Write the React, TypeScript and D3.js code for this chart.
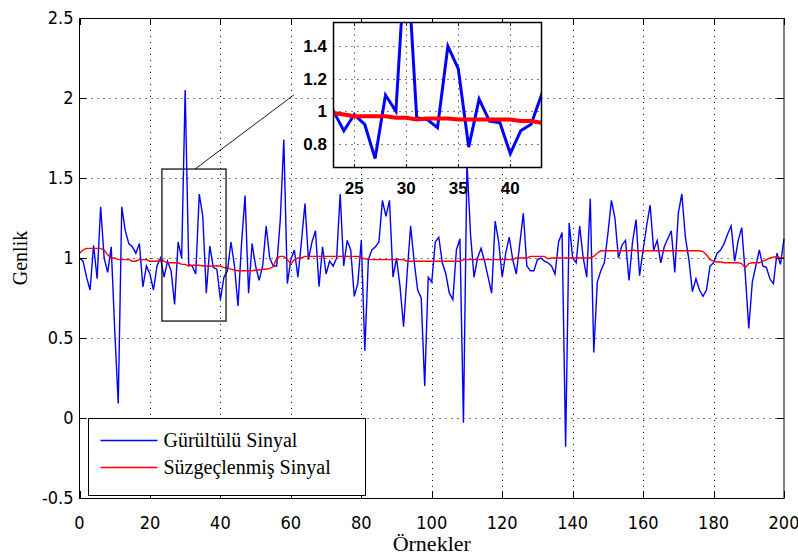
import React, { useEffect, useRef } from 'react'
import * as d3 from 'd3'

// samples 0..200
const noisy = [
  1.0, 0.98, 0.88, 0.8, 1.08, 0.87, 1.32, 1.0, 0.91, 1.07,
  0.55, 0.09, 1.32, 1.17, 1.09, 1.07, 1.03, 1.09, 0.82, 0.95,
  0.9, 0.8, 0.95, 1.0, 0.88, 0.98, 0.92, 0.71, 1.1, 1.0,
  2.05, 0.96, 0.95, 0.9, 1.4, 1.26, 0.78, 1.075, 0.94, 0.93,
  0.74, 0.88, 0.92, 1.1, 0.95, 0.7, 1.09, 1.39, 0.78, 1.09,
  0.95, 0.86, 0.95, 1.2, 1.0, 0.95, 0.95, 1.24, 1.74, 0.84,
  0.99, 1.05, 0.88, 1.1, 1.34, 0.99, 1.1, 1.17, 0.82, 1.07,
  0.9, 0.98, 0.95, 1.0, 1.4, 0.95, 1.11, 1.05, 0.76, 0.84,
  1.11, 0.42, 0.99, 1.05, 1.07, 1.1, 1.36, 1.26, 1.36, 0.88,
  1.0, 0.82, 0.57, 0.9, 1.2, 0.98, 0.8, 0.75, 0.2, 0.88,
  0.85, 1.1, 1.13, 0.97, 0.9, 0.78, 0.74, 1.05, 1.12, -0.03,
  1.6, 1.15, 0.88, 1.0, 1.06, 0.98, 0.88, 0.78, 1.23, 1.1,
  0.88, 1.03, 1.13, 0.99, 0.9, 1.09, 1.28, 0.95, 0.92, 0.92,
  0.99, 1.0, 0.98, 0.97, 0.95, 0.9, 1.1, 1.16, -0.18, 1.22,
  1.0, 0.97, 1.2, 1.0, 0.88, 1.37, 0.41, 0.85, 0.92, 0.97,
  1.15, 1.36, 1.25, 1.0, 1.08, 1.11, 0.86, 1.1, 1.24, 0.89,
  1.05, 1.2, 1.33, 1.05, 1.11, 0.97, 1.07, 1.12, 1.17, 0.91,
  1.28, 1.4, 1.13, 0.99, 0.79, 0.87, 0.8, 0.76, 0.8, 0.95,
  0.97, 1.03, 1.05, 1.09, 1.15, 1.2, 0.98, 1.11, 1.19, 0.9,
  0.56, 0.85, 0.95, 1.05, 0.95, 0.94, 0.87, 0.84, 1.03, 0.96,
  1.12,
]

const filtered = [
  1.03, 1.05, 1.06, 1.06, 1.06, 1.06, 1.06, 1.05, 1.02, 1.0,
  1.0, 0.99, 0.99, 0.99, 0.99, 0.98, 0.98, 0.99, 0.99, 0.99,
  0.98, 0.98, 0.98, 0.99, 0.98, 0.97, 0.97, 0.97, 0.97, 0.96,
  0.96, 0.95, 0.955, 0.955, 0.955, 0.95, 0.95, 0.95, 0.95, 0.95,
  0.95, 0.94, 0.94, 0.93, 0.925, 0.92, 0.92, 0.92, 0.92, 0.92,
  0.925, 0.925, 0.93, 0.93, 0.935, 0.945, 1.0, 1.01, 1.01, 0.99,
  0.965, 0.99, 1.0, 1.0, 1.01, 1.01, 1.01, 1.01, 1.01, 1.01,
  1.01, 1.01, 1.01, 1.01, 1.01, 1.01, 1.01, 1.01, 1.01, 1.01,
  1.0, 0.995, 0.99, 0.99, 0.99, 0.99, 0.99, 0.99, 0.99, 0.99,
  0.99, 0.99, 0.99, 0.98, 0.98, 0.98, 0.98, 0.98, 0.98, 0.98,
  0.98, 0.98, 0.98, 0.98, 0.98, 0.98, 0.98, 0.98, 0.98, 0.99,
  0.99, 0.99, 0.99, 0.99, 0.99, 0.99, 0.99, 0.99, 0.99, 0.99,
  0.99, 0.99, 0.99, 0.99, 1.0, 1.0, 1.0, 1.0, 1.01, 1.01,
  1.01, 1.01, 1.01, 0.995, 1.0, 1.0, 1.0, 1.0, 1.0, 1.0,
  1.0, 1.0, 1.0, 1.0, 1.0, 1.0, 1.01, 1.03, 1.045, 1.045,
  1.045, 1.045, 1.045, 1.045, 1.045, 1.045, 1.045, 1.05, 1.045, 1.045,
  1.045, 1.045, 1.045, 1.045, 1.045, 1.045, 1.045, 1.045, 1.045, 1.045,
  1.045, 1.045, 1.045, 1.045, 1.045, 1.045, 1.045, 1.04, 1.02, 0.99,
  0.98, 0.975, 0.975, 0.97, 0.97, 0.97, 0.97, 0.97, 0.965, 0.94,
  0.965, 0.97, 0.97, 0.97, 0.98, 0.99, 1.0, 1.005, 1.01, 1.0,
  1.0,
]

const xTicks = [0, 20, 40, 60, 80, 100, 120, 140, 160, 180, 200]
const yTicks = [-0.5, 0, 0.5, 1, 1.5, 2, 2.5]
const zoomXTicks = [25, 30, 35, 40]
const zoomYTicks = [0.8, 1, 1.2, 1.4]
const zoomXDomain = [23, 43]
const zoomYDomain = [0.655, 1.545]
const zoomBox = [23.4, 41.6, 0.606, 1.556] // x0, x1, y0, y1
const pointer = [[32.8, 1.556], [60.9, 2.02]]
const legendLabels = ['Gürültülü Sinyal', 'Süzgeçlenmiş Sinyal']
const colors = ['#0000ff', '#ff0000']

const W = 798
const H = 556
const tickFont = '"Liberation Sans Narrow", "DejaVu Sans Condensed", Arial, sans-serif'
const serif = '"Liberation Serif", "Times New Roman", serif'

const App = () => {
  const ref = useRef<SVGSVGElement>(null)

  useEffect(() => {
    const root = d3.select(ref.current)
    root.selectAll('*').remove()

    const margin = { top: 18, right: 14, bottom: 58, left: 79.5 }
    const x = d3.scaleLinear().domain([0, 200]).range([margin.left, W - margin.right])
    const y = d3.scaleLinear().domain([-0.5, 2.5]).range([H - margin.bottom, margin.top])
    const [x0, x1] = x.range()
    const [y0, y1] = y.range()

    root.append('rect').attr('width', W).attr('height', H).attr('fill', 'white')

    const grid = root.append('g').attr('stroke', '#000').attr('stroke-dasharray', '1,5').attr('stroke-width', 1)
    grid.selectAll('line.gx')
      .data(xTicks.slice(1, -1))
      .join('line')
      .attr('x1', d => Math.round(x(d)) + 0.5).attr('x2', d => Math.round(x(d)) + 0.5)
      .attr('y1', y1).attr('y2', y0)
    grid.selectAll('line.gy')
      .data(yTicks.slice(1, -1))
      .join('line')
      .attr('class', 'gy')
      .attr('y1', d => Math.round(y(d)) + 0.5).attr('y2', d => Math.round(y(d)) + 0.5)
      .attr('x1', x0).attr('x2', x1)

    const line = d3.line<number>().x((d, i) => x(i)).y(d => y(d))

    root.append('path') // noisy
      .datum(noisy)
      .attr('d', line)
      .attr('fill', 'none')
      .attr('stroke', colors[0])
      .attr('stroke-width', 1.4)

    root.append('path') // filtered
      .datum(filtered)
      .attr('d', line)
      .attr('fill', 'none')
      .attr('stroke', colors[1])
      .attr('stroke-width', 1.4)

    // frame + ticks
    root.append('rect')
      .attr('x', x0).attr('y', y1 + 0.5)
      .attr('width', x1 - x0).attr('height', y0 - y1)
      .attr('fill', 'none').attr('stroke', '#000')
    const ticks = root.append('g').attr('stroke', '#000')
    xTicks.forEach(t => {
      const px = Math.round(x(t)) + 0.5
      ticks.append('line').attr('x1', px).attr('x2', px).attr('y1', y0).attr('y2', y0 - 7)
      ticks.append('line').attr('x1', px).attr('x2', px).attr('y1', y1).attr('y2', y1 + 7)
    })
    yTicks.forEach(t => {
      const py = Math.round(y(t)) + 0.5
      ticks.append('line').attr('x1', x0).attr('x2', x0 + 7).attr('y1', py).attr('y2', py)
      ticks.append('line').attr('x1', x1).attr('x2', x1 - 7).attr('y1', py).attr('y2', py)
    })

    root.append('g')
      .selectAll('text')
      .data(xTicks)
      .join('text')
      .attr('x', d => x(d))
      .attr('y', y0 + 31)
      .attr('text-anchor', 'middle')
      .attr('font-family', tickFont)
      .attr('font-size', 18)
      .text(d => d)

    root.append('g')
      .selectAll('text')
      .data(yTicks)
      .join('text')
      .attr('x', x0 - 6)
      .attr('y', d => y(d) + 6)
      .attr('text-anchor', 'end')
      .attr('font-family', tickFont)
      .attr('font-size', 18)
      .text(d => d)

    root.append('text')
      .attr('x', (x0 + x1) / 2)
      .attr('y', H - 5)
      .attr('text-anchor', 'middle')
      .attr('font-family', serif)
      .attr('font-size', 22)
      .text('Örnekler')

    root.append('text')
      .attr('transform', `translate(27, ${(y0 + y1) / 2}) rotate(-90)`)
      .attr('text-anchor', 'middle')
      .attr('font-family', serif)
      .attr('font-size', 20)
      .text('Genlik')

    // zoom box and pointer
    root.append('rect')
      .attr('x', x(zoomBox[0])).attr('y', y(zoomBox[3]))
      .attr('width', x(zoomBox[1]) - x(zoomBox[0]))
      .attr('height', y(zoomBox[2]) - y(zoomBox[3]))
      .attr('fill', 'none').attr('stroke', '#000').attr('stroke-width', 1.2)
    root.append('line')
      .attr('x1', x(pointer[0][0])).attr('y1', y(pointer[0][1]))
      .attr('x2', x(pointer[1][0])).attr('y2', y(pointer[1][1]))
      .attr('stroke', '#000').attr('stroke-width', 0.9)

    // legend
    const lg = root.append('g').attr('transform', 'translate(88.5, 418.5)')
    lg.append('rect').attr('width', 277).attr('height', 77).attr('fill', 'white').attr('stroke', '#000')
    legendLabels.forEach((l, i) => {
      const ly = 22 + i * 27
      lg.append('line').attr('x1', 12).attr('x2', 69).attr('y1', ly).attr('y2', ly)
        .attr('stroke', colors[i]).attr('stroke-width', 1.4)
      lg.append('text').attr('x', 75).attr('y', ly + 6)
        .attr('font-family', serif).attr('font-size', 20)
        .text(l)
    })

    // inset
    const zx = d3.scaleLinear().domain(zoomXDomain).range([333.5, 541.5])
    const zy = d3.scaleLinear().domain(zoomYDomain).range([167.5, 22.5])
    const inset = root.append('g')
    inset.append('rect')
      .attr('x', 333.5).attr('y', 22.5).attr('width', 208).attr('height', 145)
      .attr('fill', 'white')
    root.append('clipPath').attr('id', 'zclip')
      .append('rect').attr('x', 333.5).attr('y', 22.5).attr('width', 208).attr('height', 145)
    const zgrid = inset.append('g').attr('stroke', '#000').attr('stroke-dasharray', '1,5')
    zgrid.selectAll('line.a').data(zoomXTicks).join('line')
      .attr('x1', d => Math.round(zx(d)) + 0.5).attr('x2', d => Math.round(zx(d)) + 0.5)
      .attr('y1', 22.5).attr('y2', 167.5)
    zgrid.selectAll('line.b').data(zoomYTicks).join('line').attr('class', 'b')
      .attr('y1', d => Math.round(zy(d)) + 0.5).attr('y2', d => Math.round(zy(d)) + 0.5)
      .attr('x1', 333.5).attr('x2', 541.5)

    const zline = d3.line<number>().x((d, i) => zx(i)).y(d => zy(d))
    const zl = inset.append('g').attr('clip-path', 'url(#zclip)')
    zl.append('path').datum(noisy).attr('d', zline)
      .attr('fill', 'none').attr('stroke', colors[0]).attr('stroke-width', 3)
    zl.append('path').datum(filtered).attr('d', zline)
      .attr('fill', 'none').attr('stroke', colors[1]).attr('stroke-width', 4)

    inset.append('rect')
      .attr('x', 333.5).attr('y', 22.5).attr('width', 208).attr('height', 145)
      .attr('fill', 'none').attr('stroke', '#000').attr('stroke-width', 1.5)
    zoomXTicks.forEach(t => {
      const px = Math.round(zx(t)) + 0.5
      inset.append('line').attr('x1', px).attr('x2', px).attr('y1', 167.5).attr('y2', 164).attr('stroke', '#000')
      inset.append('line').attr('x1', px).attr('x2', px).attr('y1', 22.5).attr('y2', 26).attr('stroke', '#000')
    })
    inset.append('g').selectAll('text').data(zoomXTicks).join('text')
      .attr('x', d => zx(d)).attr('y', 194)
      .attr('text-anchor', 'middle')
      .attr('font-family', 'Arial, "Liberation Sans", sans-serif')
      .attr('font-weight', 'bold').attr('font-size', 17)
      .text(d => d)
    inset.append('g').selectAll('text').data(zoomYTicks).join('text')
      .attr('x', 327).attr('y', d => zy(d) + 6)
      .attr('text-anchor', 'end')
      .attr('font-family', 'Arial, "Liberation Sans", sans-serif')
      .attr('font-weight', 'bold').attr('font-size', 17)
      .text(d => d)
  }, [])

  return (
    <svg
      ref={ref}
      width={W}
      height={H}
      style={{ position: 'absolute', left: 0, top: 0, display: 'block' }}
    />
  )
}

export default App
